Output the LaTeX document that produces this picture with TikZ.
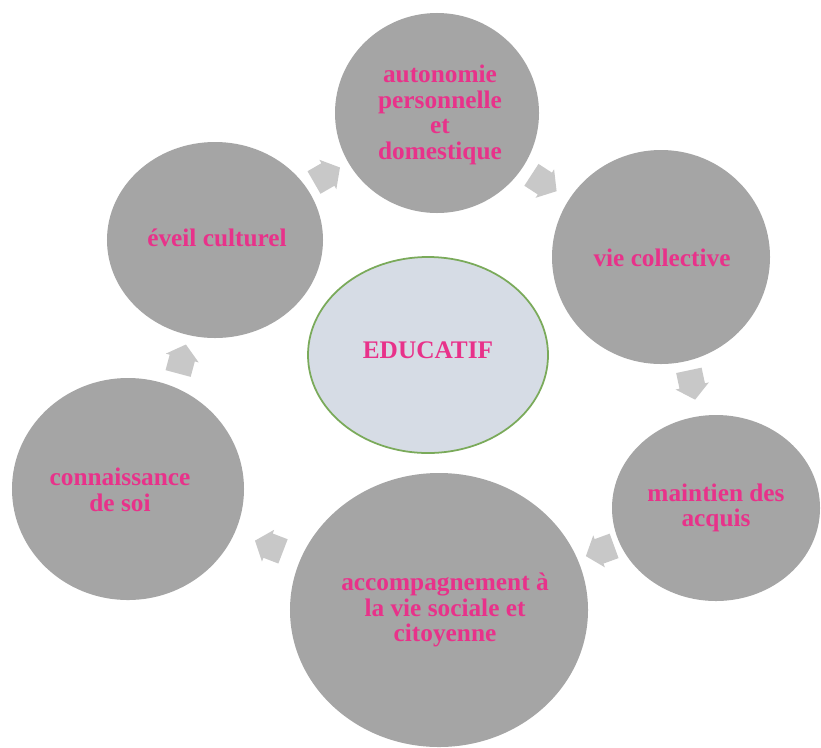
\documentclass[tikz,border=0pt]{standalone}
\usepackage{fontspec}
\setmainfont{Liberation Serif}
\newfontfamily\lblfont{Liberation Serif}
\usetikzlibrary{shapes.geometric}
\definecolor{bubblegray}{RGB}{165,165,165}
\definecolor{hubfill}{RGB}{214,220,229}
\definecolor{hubline}{RGB}{122,170,90}
\definecolor{labelpink}{RGB}{232,50,138}
\definecolor{arrowgray}{RGB}{200,200,200}
\begin{document}
\begin{tikzpicture}[x=0.03cm,y=-0.03cm,
  bubble/.style={ellipse, fill=bubblegray, inner sep=0pt, outer sep=0pt},
  hub/.style={ellipse, fill=hubfill, draw=hubline, line width=1.5pt, inner sep=0pt, outer sep=0pt},
  lbl/.style={align=center, text=labelpink, inner sep=0pt, font=\lblfont\fontsize{21.6}{22}\selectfont\bfseries},
  blockarrow/.pic={\fill[arrowgray] (-15,-13) -- (1,-13) -- (1,-17) -- (15,0) -- (1,17) -- (1,13) -- (-15,13) -- cycle;}
]
\useasboundingbox (0,0) rectangle (821,747);
\fill[white] (0,0) rectangle (821,747);

\node[bubble, minimum width=6.12cm, minimum height=6.0cm] (top) at (437,113) {};
\node[bubble, minimum width=6.54cm, minimum height=6.42cm] (vie) at (661,257) {};
\node[bubble, minimum width=6.24cm, minimum height=5.58cm] (maint) at (716,508) {};
\node[bubble, minimum width=8.94cm, minimum height=8.22cm] (accomp) at (439,610) {};
\node[bubble, minimum width=6.96cm, minimum height=6.66cm] (conn) at (128,489) {};
\node[bubble, minimum width=6.48cm, minimum height=5.88cm] (eveil) at (215,240) {};
\node[hub, minimum width=7.2cm, minimum height=5.88cm] (hubnode) at (428,355) {};

\coordinate (a1) at (327,175);
\coordinate (a2) at (544,183);
\coordinate (a3) at (692,385);
\coordinate (a4) at (600,551);
\coordinate (a5) at (269,546);
\coordinate (a6) at (182,359);
\pic[rotate=30] at (a1) {blockarrow};
\pic[rotate=-33] at (a2) {blockarrow};
\pic[rotate=-78] at (a3) {blockarrow};
\pic[rotate=-160] at (a4) {blockarrow};
\pic[rotate=159] at (a5) {blockarrow};
\pic[rotate=75] at (a6) {blockarrow};

\node[lbl] (ttop) at (440,115) {autonomie\\personnelle\\et\\domestique};
\node[lbl] (tvie) at (662,258) {vie collective};
\node[lbl] (tmaint) at (716,508) {maintien des\\acquis};
\node[lbl] (taccomp) at (445,610) {accompagnement à\\la vie sociale et\\citoyenne};
\node[lbl] (tconn) at (120,490) {connaissance\\de soi};
\node[lbl] (teveil) at (217,238) {éveil culturel};
\node[lbl] (thub) at (428,350) {EDUCATIF};
\end{tikzpicture}
\end{document}
